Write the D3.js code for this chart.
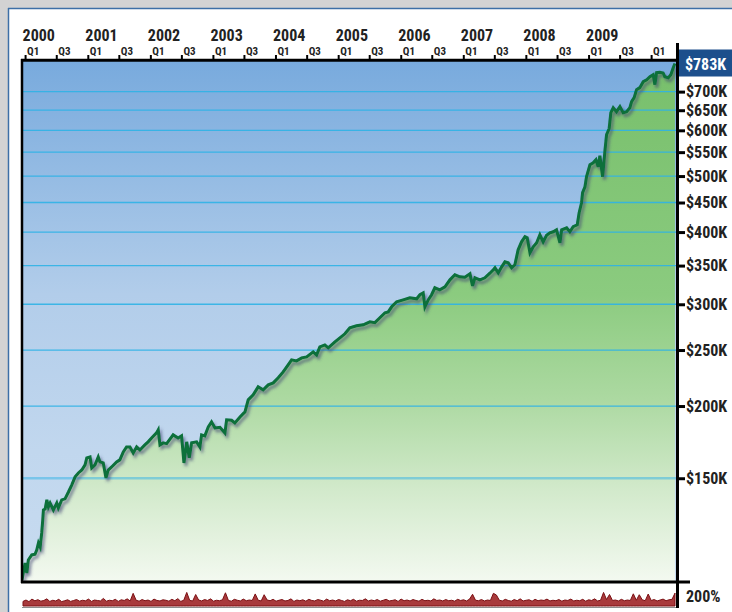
<!DOCTYPE html>
<html>
<head>
<meta charset="utf-8">
<script src="https://cdn.jsdelivr.net/npm/d3@7"></script>
<style>
  body { margin: 0; background: #fff; }
  svg { display: block; }
  text { font-family: "Liberation Sans Narrow", "Roboto Condensed", "DejaVu Sans Condensed", "Liberation Sans", sans-serif; font-weight: bold; font-stretch: condensed; fill: #222; }
</style>
</head>
<body>
<div id="wrapper"></div>
<script>
// ---- data ----
const dates = [
  "1999-12-14","2000-01-01","2000-01-11","2000-01-20","2000-02-09","2000-02-28","2000-03-09","2000-03-19","2000-03-29","2000-04-07",
  "2000-04-13","2000-04-17","2000-04-27","2000-05-07","2000-05-16","2000-05-26","2000-06-14","2000-07-04","2000-07-13","2000-08-02",
  "2000-08-21","2000-09-10","2000-09-29","2000-10-19","2000-11-07","2000-11-27","2000-12-16","2000-12-26","2001-01-14","2001-01-24",
  "2001-02-12","2001-03-03","2001-03-13","2001-04-01","2001-04-17","2001-04-30","2001-05-20","2001-06-18","2001-07-07","2001-07-27",
  "2001-08-15","2001-09-04","2001-09-23","2001-10-13","2001-11-01","2001-11-30","2001-12-19","2002-01-08","2002-02-06","2002-02-16",
  "2002-02-26","2002-03-17","2002-04-06","2002-05-14","2002-06-12","2002-07-02","2002-07-16","2002-08-01","2002-08-16","2002-08-30",
  "2002-09-28","2002-10-17","2002-10-27","2002-11-15","2002-12-05","2002-12-24","2003-01-13","2003-02-11","2003-03-12","2003-03-22",
  "2003-04-20","2003-05-09","2003-06-08","2003-07-07","2003-07-26","2003-08-24","2003-09-22","2003-10-21","2003-11-20","2003-12-19",
  "2004-01-17","2004-02-15","2004-03-15","2004-04-04","2004-05-03","2004-06-02","2004-07-01","2004-08-08","2004-08-28","2004-09-16",
  "2004-10-15","2004-11-04","2004-12-13","2005-01-11","2005-02-09","2005-03-10","2005-04-18","2005-05-27","2005-07-05","2005-08-03",
  "2005-09-01","2005-10-01","2005-10-20","2005-11-09","2005-12-08","2006-01-15","2006-02-23","2006-04-04","2006-04-23","2006-05-12",
  "2006-05-22","2006-06-10","2006-06-30","2006-07-19","2006-08-17","2006-09-16","2006-10-15","2006-11-13","2006-12-12","2007-01-10",
  "2007-02-09","2007-02-24","2007-03-10","2007-04-08","2007-05-07","2007-06-05","2007-06-25","2007-07-05","2007-07-24","2007-08-13",
  "2007-09-01","2007-09-20","2007-10-10","2007-10-29","2007-11-17","2007-12-07","2007-12-27","2008-01-09","2008-01-25","2008-02-13",
  "2008-03-04","2008-03-23","2008-04-11","2008-05-01","2008-05-20","2008-06-09","2008-06-28","2008-07-18","2008-07-28","2008-08-26",
  "2008-09-14","2008-10-03","2008-10-27","2008-11-07","2008-11-21","2008-11-27","2008-12-11","2008-12-20","2009-01-09","2009-01-28",
  "2009-02-13","2009-02-26","2009-03-08","2009-03-24","2009-04-06","2009-04-16","2009-05-01","2009-05-11","2009-05-25","2009-06-13",
  "2009-07-03","2009-07-22","2009-08-11","2009-08-30","2009-09-09","2009-09-24","2009-10-08","2009-10-27","2009-11-16","2009-12-06",
  "2009-12-25","2010-01-13","2010-01-23","2010-02-02","2010-02-21","2010-03-12","2010-03-22","2010-04-11","2010-04-26","2010-05-10",
  "2010-05-20"
];
// account value, $K
const values = [
  100.0,107.0,102.8,108.3,110.5,110.8,112.7,115.9,114.1,120.6,
  127.0,132.2,132.7,137.6,133.8,135.9,132.2,135.9,133.3,137.6,
  138.2,142.0,146.0,150.8,153.2,155.0,158.2,162.7,163.3,156.3,
  158.2,163.3,160.1,159.5,150.2,155.0,156.9,160.1,161.4,166.6,
  169.9,169.9,165.9,169.9,167.9,171.3,173.4,176.1,179.7,181.9,
  171.3,172.7,172.2,178.3,176.1,177.6,159.4,173.4,162.7,172.7,
  173.4,169.9,178.3,177.6,184.1,187.8,183.3,183.8,179.7,189.3,
  189.0,187.0,191.5,195.4,205.0,209.1,215.9,213.3,217.6,219.3,
  223.8,229.2,235.7,240.4,239.4,242.3,243.3,248.2,245.2,253.2,
  255.2,252.2,258.3,262.4,266.7,273.2,275.3,276.5,279.8,278.8,
  284.3,290.0,291.0,297.0,303.0,305.3,307.8,306.6,311.6,313.9,
  297.0,305.3,311.6,320.4,317.8,321.6,330.7,337.4,334.7,334.2,
  338.7,322.9,333.4,330.7,333.4,339.5,344.2,346.9,340.1,348.3,
  355.3,353.9,346.9,351.1,372.7,384.8,392.6,391.0,368.3,377.2,
  383.3,395.7,384.8,395.0,398.9,400.5,403.7,383.3,403.7,406.9,
  400.5,408.6,411.8,432.0,449.6,467.9,479.2,498.7,523.1,527.3,
  533.7,519.0,542.3,498.7,551.0,589.6,603.8,643.6,656.6,646.2,
  659.3,643.6,646.2,656.6,672.5,683.3,705.5,711.2,728.4,734.0,
  743.0,749.0,719.7,754.9,756.0,754.0,743.0,740.0,749.0,770.1,
  783.0
];
// lower panel, percent per period
const activity = [
  40,52,38,60,45,55,42,48,62,40,50,44,58,38,46,54,40,48,56,42,
  50,45,60,40,52,48,44,66,42,50,46,58,40,54,48,62,44,110,50,42,
  56,46,52,40,60,48,44,54,50,42,58,46,64,40,50,118,48,44,100,52,
  44,56,48,62,42,50,46,54,115,48,42,58,50,44,60,46,52,48,105,50,
  44,98,52,46,58,42,50,56,44,48,62,40,52,46,54,42,58,48,44,56,
  50,42,60,46,52,44,56,48,40,54,46,58,42,50,48,62,44,52,46,56,
  42,50,58,44,48,54,40,60,46,52,44,56,48,42,58,46,50,44,62,48,
  52,44,56,46,50,42,58,48,54,44,60,102,50,46,56,44,52,48,110,96,
  50,44,58,48,42,56,46,62,44,50,54,42,58,46,52,48,60,44,50,46,
  56,42,52,48,60,44,50,46,58,42,54,48,62,44,50,118,56,100,48,52,
  44,58,46,52,48,106,50,98,54,46,104,48,56,44,52,60,46,54,58,112
];
const priceTicks = [150000, 200000, 250000, 300000, 350000, 400000, 450000, 500000, 550000, 600000, 650000, 700000];
const yearTicks = ["2000","2001","2002","2003","2004","2005","2006","2007","2008","2009"];
const quarterTicks = [
  "2000-01-01","2000-07-01","2001-01-01","2001-07-01","2002-01-01","2002-07-01","2003-01-01","2003-07-01",
  "2004-01-01","2004-07-01","2005-01-01","2005-07-01","2006-01-01","2006-07-01","2007-01-01","2007-07-01",
  "2008-01-01","2008-07-01","2009-01-01","2009-07-01","2010-01-01"
];
const lastLabel = "$783K";
const panelLabel = "200%";

const parse = d3.timeParse("%Y-%m-%d");
const dataset = dates.map((d, i) => ({ date: parse(d), value: values[i] * 1000 }));

// ---- dimensions ----
const dims = { width: 732, height: 612, left: 22, right: 677, top: 60, bottom: 581, panelTop: 583, panelBottom: 606 };

const svg = d3.select("#wrapper").append("svg")
  .attr("width", dims.width)
  .attr("height", dims.height);

const defs = svg.append("defs");

const sky = defs.append("linearGradient").attr("id", "sky")
  .attr("gradientUnits", "userSpaceOnUse")
  .attr("x1", 0).attr("x2", 0).attr("y1", dims.top).attr("y2", dims.bottom);
[[0, "#78aadd"], [0.45, "#b2cdea"], [0.75, "#c1d7ee"], [1, "#c7dbf0"]]
  .forEach(([o, c]) => sky.append("stop").attr("offset", o).attr("stop-color", c));

const grass = defs.append("linearGradient").attr("id", "grass")
  .attr("gradientUnits", "userSpaceOnUse")
  .attr("x1", 0).attr("x2", 0).attr("y1", dims.top).attr("y2", dims.bottom);
[[0, "#77bf6b"], [0.45, "#8bcb7f"], [0.65, "#acd9a1"], [0.82, "#d1e9ca"], [1, "#f3f9f0"]]
  .forEach(([o, c]) => grass.append("stop").attr("offset", o).attr("stop-color", c));

const shadow = defs.append("filter").attr("id", "shadow")
  .attr("x", "-5%").attr("y", "-5%").attr("width", "110%").attr("height", "110%");
shadow.append("feDropShadow")
  .attr("dx", 2).attr("dy", 3).attr("stdDeviation", 1.5)
  .attr("flood-color", "#3a3f70").attr("flood-opacity", 0.6);

defs.append("clipPath").attr("id", "plotClip")
  .append("rect")
  .attr("x", dims.left).attr("y", dims.top)
  .attr("width", dims.right - dims.left).attr("height", dims.bottom - dims.top);

// ---- frame ----
svg.append("rect").attr("width", dims.width).attr("height", 8).attr("fill", "#d3d3d3");
svg.append("rect").attr("width", 8).attr("height", dims.height).attr("fill", "#d3d3d3");
svg.append("line").attr("x1", 8).attr("x2", dims.width).attr("y1", 8.5).attr("y2", 8.5)
  .attr("stroke", "#3d6fa6").attr("stroke-width", 1.5);
svg.append("line").attr("x1", 8.5).attr("x2", 8.5).attr("y1", 8).attr("y2", dims.height)
  .attr("stroke", "#3d6fa6").attr("stroke-width", 1.5);

// ---- scales ----
const xScale = d3.scaleTime()
  .domain([parse("1999-12-14"), parse("2010-06-01")])
  .range([dims.left, dims.right]);

const yScale = d3.scaleLog()
  .domain([100000, 794000])
  .range([580, dims.top]);

const panelY = d3.scaleLinear().domain([0, 200]).range([dims.panelBottom, dims.panelTop]);
const panelX = d3.scaleLinear().domain([0, activity.length - 1]).range([dims.left + 1, dims.right - 2]);

// ---- plot ----
const plot = svg.append("g").attr("clip-path", "url(#plotClip)");

plot.append("rect")
  .attr("x", dims.left).attr("y", dims.top)
  .attr("width", dims.right - dims.left).attr("height", dims.bottom - dims.top)
  .attr("fill", "url(#sky)");

const area = d3.area()
  .x(d => xScale(d.date))
  .y0(dims.bottom)
  .y1(d => yScale(d.value));

plot.append("path")
  .datum(dataset)
  .attr("d", area)
  .attr("fill", "url(#grass)");

plot.selectAll(".grid")
  .data(priceTicks)
  .enter().append("line")
    .attr("class", "grid")
    .attr("x1", dims.left).attr("x2", dims.right)
    .attr("y1", d => yScale(d)).attr("y2", d => yScale(d))
    .attr("stroke", "#2fb2e6")
    .attr("stroke-opacity", d => d === 150000 ? 0.5 : 0.9)
    .attr("stroke-width", d => d === 150000 ? 2.4 : 1.3);

const line = d3.line()
  .x(d => xScale(d.date))
  .y(d => yScale(d.value));

plot.append("path")
  .datum(dataset)
  .attr("d", line)
  .attr("fill", "none")
  .attr("stroke", "#08703a")
  .attr("stroke-width", 3)
  .attr("stroke-linejoin", "miter")
  .attr("filter", "url(#shadow)");

// ---- lower panel ----
const panelArea = d3.area()
  .x((d, i) => panelX(i))
  .y0(dims.panelBottom)
  .y1(d => panelY(d));

svg.append("path")
  .datum(activity)
  .attr("d", panelArea)
  .attr("fill", "#a83a3c")
  .attr("stroke", "#7c1014")
  .attr("stroke-width", 1);

svg.append("line")
  .attr("x1", dims.left).attr("x2", dims.right)
  .attr("y1", 607.5).attr("y2", 607.5)
  .attr("stroke", "#8e8e8e").attr("stroke-width", 1.2);

svg.append("text")
  .attr("x", 686).attr("y", 602)
  .style("font-size", "16px")
  .text(panelLabel);

// ---- axes lines ----
svg.append("line").attr("x1", 21).attr("x2", dims.right).attr("y1", 60.3).attr("y2", 60.3)
  .attr("stroke", "#000").attr("stroke-width", 3);
svg.append("line").attr("x1", 22).attr("x2", 22).attr("y1", 59).attr("y2", 583)
  .attr("stroke", "#000").attr("stroke-width", 2.5);
svg.append("line").attr("x1", 21).attr("x2", 690).attr("y1", 582).attr("y2", 582)
  .attr("stroke", "#000").attr("stroke-width", 3);
svg.append("line").attr("x1", 677.5).attr("x2", 677.5).attr("y1", 43).attr("y2", 608)
  .attr("stroke", "#000").attr("stroke-width", 3);

// ---- top axis ----
const quarterAxis = d3.axisTop(xScale)
  .tickValues(quarterTicks.map(parse))
  .tickSize(4)
  .tickPadding(2)
  .tickFormat(d => d.getMonth() === 0 ? "Q1" : "Q3");

const qAxis = svg.append("g")
  .attr("transform", `translate(0, 59)`)
  .call(quarterAxis);
qAxis.select(".domain").remove();
qAxis.selectAll(".tick line").attr("stroke", "#000").attr("stroke-width", 2);
qAxis.selectAll(".tick text")
  .attr("text-anchor", "start")
  .attr("x", 1.5).attr("y", -4).attr("dy", 0)
  .style("font-size", "11px")
  .style("fill", "#222");

const yearAxis = d3.axisTop(xScale)
  .tickValues(yearTicks.map(y => parse(y + "-01-01")))
  .tickSize(0)
  .tickFormat(d3.timeFormat("%Y"));

const yrAxis = svg.append("g")
  .attr("transform", `translate(0, 41)`)
  .call(yearAxis);
yrAxis.select(".domain").remove();
yrAxis.selectAll(".tick text")
  .attr("text-anchor", "start")
  .attr("x", -3).attr("y", 0).attr("dy", 0)
  .style("font-size", "16px")
  .style("fill", "#222");

// ---- right axis ----
const rightAxis = d3.axisRight(yScale)
  .tickValues(priceTicks)
  .tickSize(6)
  .tickPadding(1)
  .tickFormat(d => "$" + d / 1000 + "K");

const rAxis = svg.append("g")
  .attr("transform", `translate(679, 0)`)
  .call(rightAxis);
rAxis.select(".domain").remove();
rAxis.selectAll(".tick line").attr("stroke", "#000").attr("stroke-width", 3);
rAxis.selectAll(".tick text")
  .style("font-size", "16px")
  .style("fill", "#222");

// last value tag
const last = dataset[dataset.length - 1];
svg.append("rect")
  .attr("x", 679).attr("y", yScale(last.value) - 14)
  .attr("width", 53).attr("height", 27)
  .attr("fill", "#1c4f8c");
svg.append("text")
  .attr("x", 705.5).attr("y", yScale(last.value) + 6)
  .attr("text-anchor", "middle")
  .style("font-size", "16px")
  .style("fill", "#fff")
  .text(lastLabel);
</script>
</body>
</html>
